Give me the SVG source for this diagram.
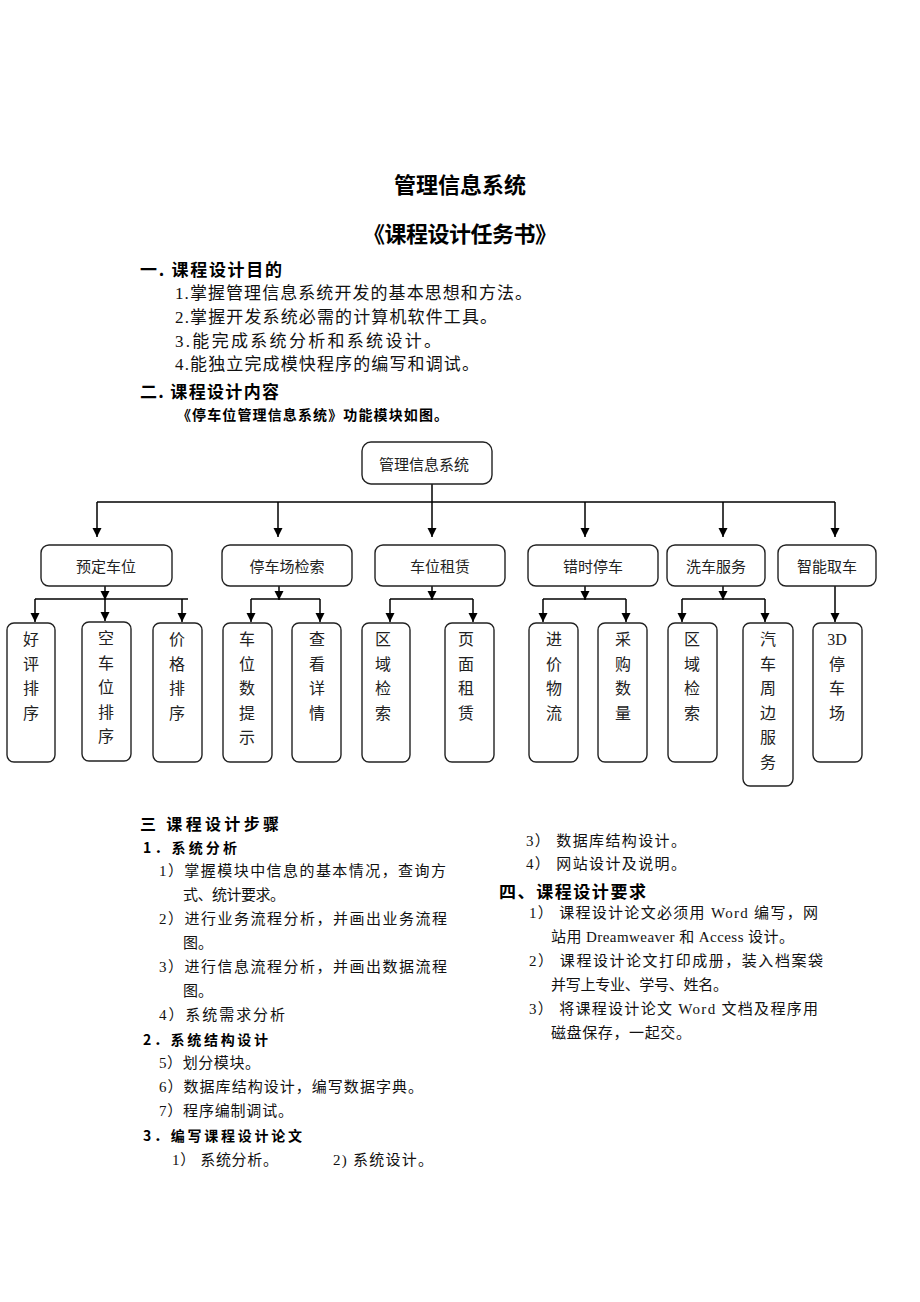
<svg xmlns="http://www.w3.org/2000/svg" width="920" height="1302" viewBox="0 0 920 1302">
<defs>
<marker id="arr" viewBox="0 0 10 10" refX="10" refY="5" markerWidth="9" markerHeight="10" markerUnits="userSpaceOnUse" orient="auto"><path d="M0,0 L10,5 L0,10 z" fill="#000"/></marker>
<style>
.t{font-family:"Liberation Serif","Noto Sans CJK SC",serif;fill:#111;dominant-baseline:central}
.h{font-family:"Noto Sans CJK SC","Liberation Sans",sans-serif;font-weight:bold;fill:#000;dominant-baseline:central}
.box{fill:#fff;stroke:#222;stroke-width:1.4}
.nt{font-family:"Noto Sans CJK SC","Liberation Serif",serif;font-size:15px;fill:#222;text-anchor:middle;dominant-baseline:central}
.vt{font-family:"Liberation Serif","Noto Sans CJK SC",serif;font-size:16px;fill:#222;text-anchor:middle;dominant-baseline:central}
.ln{fill:none;stroke:#000;stroke-width:1.5}
</style>
</defs>
<rect width="920" height="1302" fill="#fff"/>
<g id="header">
<text class="h" x="460" y="183" font-size="22" text-anchor="middle">管理信息系统</text>
<text class="h" x="460" y="232" font-size="22" text-anchor="middle" textLength="194">《课程设计任务书》</text>
<text class="h" x="140" y="268" font-size="17" textLength="142">一. 课程设计目的</text>
<text class="t" x="175" y="293" font-size="17" textLength="357">1.掌握管理信息系统开发的基本思想和方法。</text>
<text class="t" x="175" y="317" font-size="17" textLength="322">2.掌握开发系统必需的计算机软件工具。</text>
<text class="t" x="175" y="341" font-size="17" textLength="266">3.能完成系统分析和系统设计。</text>
<text class="t" x="175" y="364" font-size="17" textLength="304">4.能独立完成模快程序的编写和调试。</text>
<text class="h" x="140" y="390" font-size="17" textLength="139">二. 课程设计内容</text>
<text class="h" x="177" y="414" font-size="14" textLength="271">《停车位管理信息系统》功能模块如图。</text>
</g>
<g id="connectors">
<line class="ln" x1="432" y1="484" x2="432" y2="502"/>
<line class="ln" x1="97" y1="502" x2="835" y2="502"/>
<line class="ln" x1="97" y1="502" x2="97" y2="537" marker-end="url(#arr)"/>
<line class="ln" x1="278" y1="502" x2="278" y2="537" marker-end="url(#arr)"/>
<line class="ln" x1="432" y1="502" x2="432" y2="537" marker-end="url(#arr)"/>
<line class="ln" x1="585" y1="502" x2="585" y2="537" marker-end="url(#arr)"/>
<line class="ln" x1="723" y1="502" x2="723" y2="537" marker-end="url(#arr)"/>
<line class="ln" x1="835" y1="502" x2="835" y2="537" marker-end="url(#arr)"/>
<line class="ln" x1="105" y1="586" x2="105" y2="600" marker-end="url(#arr)"/>
<line class="ln" x1="35" y1="599" x2="188" y2="599"/>
<line class="ln" x1="35" y1="599" x2="35" y2="622" marker-end="url(#arr)"/>
<line class="ln" x1="105" y1="599" x2="105" y2="621" marker-end="url(#arr)"/>
<line class="ln" x1="182" y1="599" x2="182" y2="622" marker-end="url(#arr)"/>
<line class="ln" x1="279" y1="586" x2="279" y2="600" marker-end="url(#arr)"/>
<line class="ln" x1="251" y1="599" x2="320" y2="599"/>
<line class="ln" x1="251" y1="599" x2="251" y2="622" marker-end="url(#arr)"/>
<line class="ln" x1="320" y1="599" x2="320" y2="622" marker-end="url(#arr)"/>
<line class="ln" x1="432" y1="586" x2="432" y2="600" marker-end="url(#arr)"/>
<line class="ln" x1="390" y1="599" x2="473" y2="599"/>
<line class="ln" x1="390" y1="599" x2="390" y2="622" marker-end="url(#arr)"/>
<line class="ln" x1="473" y1="599" x2="473" y2="622" marker-end="url(#arr)"/>
<line class="ln" x1="585" y1="586" x2="585" y2="600" marker-end="url(#arr)"/>
<line class="ln" x1="543" y1="599" x2="626" y2="599"/>
<line class="ln" x1="543" y1="599" x2="543" y2="622" marker-end="url(#arr)"/>
<line class="ln" x1="626" y1="599" x2="626" y2="622" marker-end="url(#arr)"/>
<line class="ln" x1="723" y1="586" x2="723" y2="600" marker-end="url(#arr)"/>
<line class="ln" x1="682" y1="599" x2="765" y2="599"/>
<line class="ln" x1="682" y1="599" x2="682" y2="622" marker-end="url(#arr)"/>
<line class="ln" x1="765" y1="599" x2="765" y2="622" marker-end="url(#arr)"/>
<line class="ln" x1="835" y1="586" x2="835" y2="622" marker-end="url(#arr)"/>
</g>
<g id="root"><rect class="box" x="362" y="442" width="130" height="42" rx="9"/><text class="nt" x="424" y="463">管理信息系统</text></g>
<g id="n1"><rect class="box" x="41" y="545" width="131" height="41" rx="8"/><text class="nt" x="106" y="565">预定车位</text></g>
<g id="n2"><rect class="box" x="222" y="545" width="130" height="41" rx="8"/><text class="nt" x="287" y="565">停车场检索</text></g>
<g id="n3"><rect class="box" x="375" y="545" width="130" height="41" rx="8"/><text class="nt" x="440" y="565">车位租赁</text></g>
<g id="n4"><rect class="box" x="528" y="545" width="130" height="41" rx="8"/><text class="nt" x="593" y="565">错时停车</text></g>
<g id="n5"><rect class="box" x="667" y="545" width="98" height="41" rx="8"/><text class="nt" x="716" y="565">洗车服务</text></g>
<g id="n6"><rect class="box" x="778" y="545" width="98" height="41" rx="8"/><text class="nt" x="827" y="565">智能取车</text></g>
<g id="l1"><rect class="box" x="7" y="623" width="48" height="139" rx="7"/><text class="vt"><tspan x="31" y="639">好</tspan><tspan x="31" y="664">评</tspan><tspan x="31" y="688">排</tspan><tspan x="31" y="713">序</tspan></text></g>
<g id="l2"><rect class="box" x="82" y="622" width="49" height="139" rx="7"/><text class="vt"><tspan x="106" y="638">空</tspan><tspan x="106" y="663">车</tspan><tspan x="106" y="687">位</tspan><tspan x="106" y="712">排</tspan><tspan x="106" y="736">序</tspan></text></g>
<g id="l3"><rect class="box" x="153" y="623" width="49" height="139" rx="7"/><text class="vt"><tspan x="177" y="639">价</tspan><tspan x="177" y="664">格</tspan><tspan x="177" y="688">排</tspan><tspan x="177" y="713">序</tspan></text></g>
<g id="l4"><rect class="box" x="223" y="623" width="49" height="139" rx="7"/><text class="vt"><tspan x="247" y="639">车</tspan><tspan x="247" y="664">位</tspan><tspan x="247" y="688">数</tspan><tspan x="247" y="713">提</tspan><tspan x="247" y="737">示</tspan></text></g>
<g id="l5"><rect class="box" x="292" y="623" width="49" height="139" rx="7"/><text class="vt"><tspan x="317" y="639">查</tspan><tspan x="317" y="664">看</tspan><tspan x="317" y="688">详</tspan><tspan x="317" y="713">情</tspan></text></g>
<g id="l6"><rect class="box" x="362" y="623" width="48" height="139" rx="7"/><text class="vt"><tspan x="383" y="639">区</tspan><tspan x="383" y="664">域</tspan><tspan x="383" y="688">检</tspan><tspan x="383" y="713">索</tspan></text></g>
<g id="l7"><rect class="box" x="445" y="623" width="49" height="139" rx="7"/><text class="vt"><tspan x="466" y="639">页</tspan><tspan x="466" y="664">面</tspan><tspan x="466" y="688">租</tspan><tspan x="466" y="713">赁</tspan></text></g>
<g id="l8"><rect class="box" x="529" y="623" width="49" height="139" rx="7"/><text class="vt"><tspan x="554" y="639">进</tspan><tspan x="554" y="664">价</tspan><tspan x="554" y="688">物</tspan><tspan x="554" y="713">流</tspan></text></g>
<g id="l9"><rect class="box" x="598" y="623" width="49" height="139" rx="7"/><text class="vt"><tspan x="623" y="639">采</tspan><tspan x="623" y="664">购</tspan><tspan x="623" y="688">数</tspan><tspan x="623" y="713">量</tspan></text></g>
<g id="l10"><rect class="box" x="668" y="623" width="49" height="139" rx="7"/><text class="vt"><tspan x="692" y="639">区</tspan><tspan x="692" y="664">域</tspan><tspan x="692" y="688">检</tspan><tspan x="692" y="713">索</tspan></text></g>
<g id="l11"><rect class="box" x="743" y="623" width="50" height="163" rx="7"/><text class="vt"><tspan x="768" y="639">汽</tspan><tspan x="768" y="664">车</tspan><tspan x="768" y="688">周</tspan><tspan x="768" y="713">边</tspan><tspan x="768" y="737">服</tspan><tspan x="768" y="762">务</tspan></text></g>
<g id="l12"><rect class="box" x="813" y="623" width="49" height="139" rx="7"/><text class="vt"><tspan x="837" y="639">3D</tspan><tspan x="837" y="664">停</tspan><tspan x="837" y="688">车</tspan><tspan x="837" y="713">场</tspan></text></g>
<g id="section3">
<text class="h" x="140" y="823" font-size="16" textLength="139">三 课程设计步骤</text>
<text class="h" x="143" y="847" font-size="14" textLength="94">1．系统分析</text>
<text class="t" x="159" y="871" font-size="15" textLength="287">1）掌握模块中信息的基本情况，查询方</text>
<text class="t" x="183" y="895" font-size="15" textLength="102">式、统计要求。</text>
<text class="t" x="159" y="919" font-size="15" textLength="288">2）进行业务流程分析，并画出业务流程</text>
<text class="t" x="183" y="943" font-size="15" textLength="30">图。</text>
<text class="t" x="159" y="967" font-size="15" textLength="288">3）进行信息流程分析，并画出数据流程</text>
<text class="t" x="183" y="991" font-size="15" textLength="30">图。</text>
<text class="t" x="159" y="1015" font-size="15" textLength="126">4）系统需求分析</text>
<text class="h" x="143" y="1039" font-size="14" textLength="125">2．系统结构设计</text>
<text class="t" x="159" y="1063" font-size="15" textLength="101">5）划分模块。</text>
<text class="t" x="159" y="1087" font-size="15" textLength="264">6）数据库结构设计，编写数据字典。</text>
<text class="t" x="159" y="1111" font-size="15" textLength="134">7）程序编制调试。</text>
<text class="h" x="143" y="1135" font-size="14" textLength="159">3．编写课程设计论文</text>
<text class="t" x="172" y="1160" font-size="15" textLength="106">1） 系统分析。</text>
<text class="t" x="333" y="1160" font-size="15" textLength="100">2) 系统设计。</text>
</g>
<g id="section4">
<text class="t" x="526" y="841" font-size="15" textLength="160">3） 数据库结构设计。</text>
<text class="t" x="526" y="864" font-size="15" textLength="160">4） 网站设计及说明。</text>
<text class="h" x="499" y="890" font-size="17" textLength="147">四、课程设计要求</text>
<text class="t" x="529" y="913" font-size="15" textLength="289">1） 课程设计论文必须用 Word 编写，网</text>
<text class="t" x="551" y="937" font-size="15" textLength="243">站用 Dreamweaver 和 Access 设计。</text>
<text class="t" x="529" y="961" font-size="15" textLength="294">2） 课程设计论文打印成册，装入档案袋</text>
<text class="t" x="551" y="985" font-size="15" textLength="177">并写上专业、学号、姓名。</text>
<text class="t" x="529" y="1009" font-size="15" textLength="289">3） 将课程设计论文 Word 文档及程序用</text>
<text class="t" x="551" y="1033" font-size="15" textLength="140">磁盘保存，一起交。</text>
</g>
</svg>
